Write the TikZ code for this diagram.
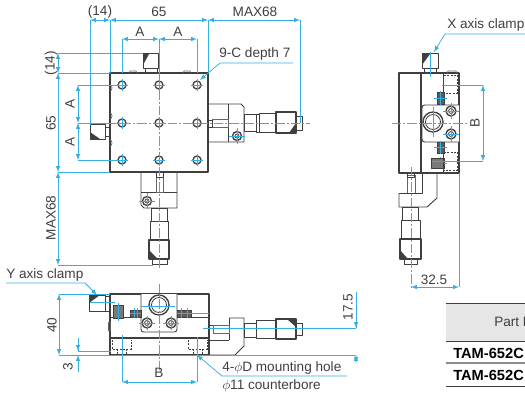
\documentclass[tikz,border=0pt]{standalone}
\usepackage{fontspec}
\setmainfont{Liberation Sans}
\usepackage{amsmath}
\usetikzlibrary{arrows}
\tikzset{>=latex}
\definecolor{dimblue}{HTML}{35AEE2}
\definecolor{inkgray}{HTML}{3F3F3F}
\definecolor{headgray}{HTML}{E6E6E6}
\tikzset{
	part/.style={draw=inkgray, line width=0.7pt, line join=round},
	thin part/.style={draw=inkgray!80, line width=0.5pt},
	heavy/.style={draw=inkgray, line width=1pt},
	hidden/.style={draw=inkgray, line width=0.5pt, dashed, dash pattern=on 1.5pt off 1pt},
	shade part/.style={fill=inkgray, draw=none},
	black part/.style={fill=inkgray!85, draw=inkgray, line width=0.4pt},
	hole/.style={draw=inkgray, line width=1pt},
	dimline/.style={<->, draw=dimblue, line width=0.55pt},
	extline/.style={draw=dimblue, line width=0.55pt},
	centerline/.style={draw=dimblue, line width=0.55pt, dash pattern=on 7pt off 1.5pt on 1.5pt off 1.5pt},
	cross/.style={draw=dimblue, line width=0.55pt},
	lbl/.style={text=inkgray, inner sep=0pt, font=\fontsize{10.2}{12}\selectfont},
	rowlbl/.style={text=black, inner sep=0pt, anchor=west, font=\fontsize{11}{13}\selectfont\bfseries}
}

\begin{document}
\begin{tikzpicture}[x=0.75pt, y=-0.75pt]
	\clip (0,0) rectangle (525,394);
	% top view
	\draw[part, line width=1pt] (110,73) rectangle (208,172);
	\draw[heavy, line width=1.2pt] (110,73) -- (110,172);
	\foreach \y in {94,122,149} \draw[thin part] (110,\y-3) arc (90:270:-2 and 3);
	\foreach \x in {133,187} \draw[thin part] (\x-4,73) -- (\x-3,71) -- (\x+3,71) -- (\x+4,73);
	\foreach \x in {122,159,197} \foreach \y in {85,123,160} {
		\draw[hole] (\x,\y) circle (4);
		\draw[cross] (\x-6,\y) -- (\x+6,\y) (\x,\y-6) -- (\x,\y+6);
	}
	% clamps on the top view
	\draw[part] (145,68) rectangle (157,73);
	\draw[part] (143,53) rectangle (158,68);
	\fill[shade part] (143,54) -- (149,54) -- (143,65) -- cycle;
	\draw[part] (105,127) rectangle (110,136);
	\draw[part] (90,124) rectangle (105,139);
	\fill[shade part] (90,132) -- (100,139) -- (90,139) -- cycle;
	% x micrometer
	\draw[part] (208,104) -- (241,104) -- (244,107) -- (244,142) -- (208,142);
	\draw[part] (228,104) -- (228,142);
	\draw[thin part] (212,119) rectangle (228,127);
	\draw[part] (208,120) rectangle (212,127);
	\draw[part] (244,114) rectangle (256,131);
	\draw[part] (256,114) rectangle (259,132);
	\draw[part] (259,113) rectangle (276,132);
	\draw[part, line width=1pt] (276,112) rectangle (296,133);
	\draw[part] (296,116) rectangle (302,130);
	\fill[shade part] (296,123) -- (296,133) -- (289,133) -- cycle;
	% y micrometer
	\draw[part] (141,172) -- (141,205) -- (144,208) -- (177,208) -- (177,172);
	\draw[part] (141,192) -- (177,192);
	\draw[thin part] (156,177) rectangle (163,192);
	\draw[part] (156,172) rectangle (163,177);
	\draw[part] (151,208) rectangle (167,221);
	\draw[part] (150,221) rectangle (168,240);
	\draw[part, line width=1pt] (149,240) rectangle (169,259);
	\draw[part] (152,259) rectangle (167,264);
	\fill[shade part] (149,250) -- (149,259) -- (158,259) -- cycle;
	\foreach \x/\y in {237/136,147/201} {
		\draw[hole] (\x,\y) circle (4.5);
		\draw[hole, line width=0.6pt] (\x,\y) circle (2);
		\draw[cross] (\x-8,\y) -- (\x+8,\y) (\x,\y-8) -- (\x,\y+8);
	}
	% front view
	\draw[part, line width=1pt] (110,294) rectangle (209,355);
	\draw[heavy] (110,338) -- (209,338);
	\draw[part] (110,317) -- (141,317) (177,317) -- (209,317);
	\draw[part, fill=white, rounded corners=2pt] (141,294) -- (141,332) -- (177,332) -- (177,294);
	\draw[thin part] (108,322) rectangle (110,330);
	\draw[hole] (159,305) circle (10);
	\draw[hole, line width=0.6pt] (159,305) circle (7.5);
	\foreach \x in {147,171} {
		\draw[hole] (\x,323) circle (5);
		\draw[hole, line width=0.6pt] (\x,323) circle (2.5);
		\draw[cross] (\x-8,323) -- (\x+8,323) (\x,316) -- (\x,330);
	}
	\foreach \x/\w in {130/11,177/14} {
		\fill[black part] (\x,310) rectangle (\x+\w,317);
		\draw[cross] (\x,313) -- (\x+\w,313) (\x+4,308) -- (\x+4,318) (\x+\w-4,308) -- (\x+\w-4,318);
	}
	\draw[part, fill=inkgray!70] (113,305) rectangle (123,318);
	\draw[cross] (118,303) -- (118,321);
	\foreach \x in {112,188} {
		\draw[hidden] (\x,340) -- (\x,349) -- (\x+19,349) -- (\x+19,340);
		\draw[hidden] (\x+5,349) -- (\x+5,354) (\x+14,349) -- (\x+14,354);
	}
	\draw[part] (105,296) rectangle (110,311);
	\draw[part, fill=white] (89,295) rectangle (105,311);
	\fill[shade part] (89,295) -- (100,295) -- (89,303) -- cycle;
	\draw[part] (209,325) -- (229,325) (209,340) -- (229,340);
	\draw[part] (229,318) -- (244,318) -- (244,346) -- (235,355) -- (209,355);
	\draw[part] (229,318) -- (229,340);
	\draw[thin part] (213,325) rectangle (229,333);
	\draw[part] (244,323) rectangle (256,337);
	\draw[part] (256,320) rectangle (276,338);
	\draw[part, line width=1pt] (276,319) rectangle (296,339);
	\draw[part] (296,323) rectangle (302,335);
	\fill[shade part] (287,319) -- (296,319) -- (296,327) -- cycle;
	% side view
	\draw[part, line width=1pt] (399,73) rectangle (421,173);
	\draw[part, line width=1pt] (421,73) rectangle (459,173);
	\draw[part] (443,73) -- (443,173);
	\draw[thin part] (447,73) -- (448,71) -- (456,71) -- (457,73);
	\draw[part, fill=white, rounded corners=2pt] (459,105) -- (422,105) -- (422,142) -- (459,142);
	\draw[hole] (433,122) circle (10);
	\draw[hole, line width=0.6pt] (433,122) circle (7.5);
	\foreach \y in {111,134} {
		\draw[hole] (451,\y) circle (5);
		\draw[hole, line width=0.6pt] (451,\y) circle (2.5);
		\draw[cross] (443,\y) -- (459,\y) (451,\y-8) -- (451,\y+8);
	}
	\foreach \y in {75,152} \draw[hidden] (444,\y) -- (457,\y) -- (457,\y+18) -- (444,\y+18);
	\foreach \y/\h in {92/12,142/11,158/10} {
		\fill[black part] (437,\y) rectangle (444,\y+\h);
		\draw[cross] (434,\y+\h/2) -- (447,\y+\h/2) (440,\y-1) -- (440,\y+\h+1);
	}
	\draw[part, fill=inkgray!70] (431,158) rectangle (443,168);
	\draw[part] (424,68) rectangle (436,73);
	\draw[part] (422,53) rectangle (438,68);
	\fill[shade part] (422,54) -- (430,54) -- (422,65) -- cycle;
	\draw[thin part] (407,175) rectangle (415,193);
	\draw[part] (407,173) rectangle (414,177);
	\draw[part] (399,193) -- (422,193) -- (422,173);
	\draw[part] (437,173) -- (437,198) -- (427,207) -- (399,207) -- (399,193);
	\draw[part] (402,207) rectangle (418,220);
	\draw[part] (401,220) rectangle (420,239);
	\draw[part, line width=1pt] (400,239) rectangle (421,259);
	\draw[part] (404,259) rectangle (417,264);
	\fill[shade part] (400,250) -- (400,259) -- (408,259) -- cycle;
	% dimension anchors
	\foreach \n/\x in {a/90,b/110,c/208,d/300} \coordinate (top\n) at (\x,20);
	\foreach \n/\x in {a/122,b/159,c/197} \coordinate (mid\n) at (\x,39);
	\foreach \n/\y in {a/53,b/73,c/172,d/265} \coordinate (left\n) at (58,\y);
	\foreach \n/\y in {a/85,b/123,c/160} \coordinate (inner\n) at (78,\y);
	\coordinate (fronta) at (59,294);
	\coordinate (frontb) at (59,355);
	\coordinate (holea) at (122,382);
	\coordinate (holeb) at (197,382);
	\coordinate (thina) at (78,338);
	\coordinate (thinb) at (78,351);
	\coordinate (thinc) at (78,355);
	\coordinate (thind) at (78,372);
	\coordinate (axisa) at (356,292);
	\coordinate (axisb) at (356,328);
	\coordinate (axisc) at (356,355);
	\coordinate (axisd) at (356,363);
	\coordinate (sidea) at (483,85);
	\coordinate (sideb) at (483,161);
	\coordinate (lowa) at (411,287);
	\coordinate (lowb) at (459,287);
	% dimension lines
	\draw[dimline] (topa) -- (topb);
	\draw[dimline] (topb) -- (topc);
	\draw[dimline] (topc) -- (topd);
	\draw[extline] (topa) -- ++(0,105);
	\draw[extline] (topb) -- ++(0,53);
	\draw[extline] (topc) -- ++(0,53);
	\draw[extline] (topd) -- ++(0,103);
	\draw[dimline] (mida) -- (midb);
	\draw[dimline] (midb) -- (midc);
	\foreach \n in {mida,midb,midc} \draw[extline] (\n) -- ++(0,34);
	\draw[dimline] (lefta) -- (leftb);
	\draw[dimline] (leftb) -- (leftc);
	\draw[dimline] (leftc) -- (leftd);
	\draw[extline] (lefta) -- ++(85,0);
	\draw[extline] (leftb) -- ++(52,0);
	\draw[extline] (leftc) -- ++(52,0);
	\draw[extline] (leftd) -- ++(95,0);
	\draw[dimline] (innera) -- (innerb);
	\draw[dimline] (innerb) -- (innerc);
	\foreach \n in {innera,innerb,innerc} \draw[extline] (\n) -- ++(44,0);
	\draw[extline] (midb) -- ++(0,36);
	\draw[centerline] (159,75) -- (159,270);
	\draw[centerline] (122,123) -- (310,123);
	% front view dimensions
	\draw[dimline] (fronta) -- (frontb);
	\draw[extline] (fronta) -- ++(51,0);
	\draw[extline] (frontb) -- ++(297,0);
	\draw[dimline] (holea) -- (holeb);
	\draw[extline] (holea) -- ++(0,-47);
	\draw[extline] (holeb) -- ++(0,-45);
	\draw[extline] (thina) -- (thinb);
	\draw[<-, extline, >=latex] (thinb) -- ++(0,-8);
	\draw[<-, extline, >=latex] (thinc) -- (thind);
	\draw[extline] (thinb) -- ++(33,0);
	\draw[extline] (axisa) -- (axisb);
	\draw[<-, extline] (axisb) -- ++(0,-10);
	\draw[dimline] (axisc) -- (axisd);
	\draw[extline] (203,328) -- (axisb);
	\draw[cross] (90,302) -- (115,302) (141,306) -- (175,306) (182,313) -- (209,313);
	\draw[centerline] (159,284) -- (159,370);
	% side view dimensions
	\draw[dimline] (sidea) -- (sideb);
	\draw[extline] (sidea) -- ++(-41,0);
	\draw[extline] (sideb) -- ++(-51,0);
	\draw[centerline] (392,123) -- (467,123);
	\draw[cross] (433,107) -- (433,137);
	\draw[cross] (430,52) -- (430,77);
	\draw[dimline] (lowa) -- (lowb);
	\draw[extline] (lowb) -- ++(0,-114);
	\draw[centerline] (411,167) -- (411,289);
	% leaders
	\coordinate (lead9a) at (293,63);
	\coordinate (lead9b) at (220,63);
	\coordinate (lead9c) at (200,80);
	\draw[->, extline] (lead9a) -- (lead9b) -- (lead9c);
	\coordinate (leadya) at (6,283);
	\coordinate (leadyb) at (85,283);
	\coordinate (leadyc) at (97,295);
	\draw[->, extline] (leadya) -- (leadyb) -- (leadyc);
	\coordinate (leadxa) at (525,34);
	\coordinate (leadxb) at (445,34);
	\coordinate (leadxc) at (434,52);
	\draw[->, extline] (leadxa) -- (leadxb) -- (leadxc);
	\coordinate (leadha) at (347,376);
	\coordinate (leadhb) at (222,376);
	\coordinate (leadhc) at (197,355);
	\draw[->, extline] (leadha) -- (leadhb) -- (leadhc);
	% labels
	\node[lbl] (paren14) at (100,12) {(14)};
	\node[lbl] (size65) at (159,12) {65};
	\node[lbl] (maxx) at (255,12) {MAX68};
	\node[lbl] (lblAa) at (140,32) {A};
	\node[lbl] (lblAb) at (178,32) {A};
	\node[lbl, anchor=west] (lbl9c) at (219,54) {9-C depth 7};
	\node[lbl, rotate=90] (side14) at (51,63) {(14)};
	\node[lbl, rotate=90] (side65) at (51,123) {65};
	\node[lbl, rotate=90] (maxy) at (51,218) {MAX68};
	\node[lbl, rotate=90] (lblAc) at (70,104) {A};
	\node[lbl, rotate=90] (lblAd) at (70,142) {A};
	\node[lbl, anchor=west] (lblx) at (447,25) {X axis clamp};
	\node[lbl, rotate=90] (lblBa) at (475,123) {B};
	\node[lbl] (size32) at (434,280) {32.5};
	\node[lbl, anchor=west] (lbly) at (6,275) {Y axis clamp};
	\node[lbl, rotate=90] (size40) at (52,325) {40};
	\node[lbl, rotate=90] (size3) at (68,367) {3};
	\node[lbl, rotate=90] (size17) at (348,307) {17.5};
	\node[lbl] (lblBb) at (159,373) {B};
	\node[lbl, anchor=west] (lblhole) at (222,368) {4-$\phi$D mounting hole};
	\node[lbl, anchor=west] (lblbore) at (222,386) {$\phi$11 counterbore};
	% table
	\fill[headgray] (446,303) rectangle (525,341);
	\draw[part] (446,303) -- (525,303);
	\draw[part] (446,341) -- (525,341);
	\draw[part, draw=inkgray!60, line width=1.2pt] (446,363) -- (525,363);
	\draw[part] (446,386) -- (525,386);
	\node[lbl, anchor=west] (head) at (494,322) {Part N};
	\node[rowlbl] (rowa) at (453,353) {TAM-652C};
	\node[rowlbl] (rowb) at (453,375) {TAM-652C};
\end{tikzpicture}
\end{document}
